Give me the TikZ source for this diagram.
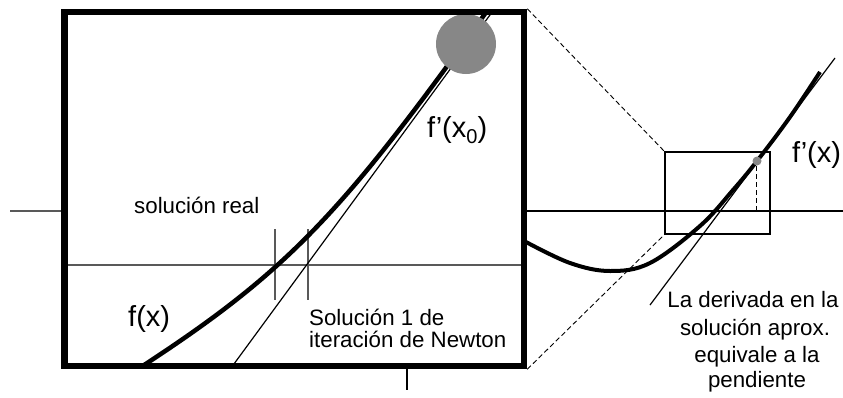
\documentclass[tikz,border=0pt]{standalone}
\usepackage{fontspec}
\setmainfont{Liberation Sans}
\begin{document}
\begin{tikzpicture}[x=1pt,y=-1pt]
\tikzset{
  thickbox/.style={line width=6.5pt},
  fcurve/.style={line width=4.5pt},
  thinline/.style={line width=1.2pt},
  grayline/.style={line width=1.3pt, draw=black!65},
  dashline/.style={line width=0.9pt, dash pattern=on 5pt off 3pt},
  lbl/.style={font=\fontsize{22.3}{26}\selectfont, inner sep=0pt},
  biglbl/.style={font=\fontsize{29}{32}\selectfont, inner sep=0pt},
}
\useasboundingbox (0,0) rectangle (843,397);
% key coordinates
\coordinate (boxTL) at (64.5,12);
\coordinate (boxBR) at (524,366);
\coordinate (boxTRo) at (527.25,8.75);
\coordinate (boxBRo) at (527.25,369.25);
\coordinate (axL1) at (10,211);
\coordinate (axL2) at (61,211);
\coordinate (axR1) at (527,211);
\coordinate (axR2) at (843,211);
\coordinate (inA) at (64,265);
\coordinate (inB) at (524,265);
\coordinate (t1a) at (275,229); \coordinate (t1b) at (275,300);
\coordinate (t2a) at (308,229); \coordinate (t2b) at (308,300);
\coordinate (tya) at (407,369); \coordinate (tyb) at (407,390);
\coordinate (tanA) at (231,368);
\coordinate (tanB) at (498,4);
\coordinate (fA) at (138,369);
\coordinate (fB) at (492,4);
\coordinate (srTL) at (665,152);
\coordinate (srBR) at (770,234);
\coordinate (srBL) at (665,234);
\coordinate (rtanA) at (650,305);
\coordinate (rtanB) at (835,58);
\coordinate (vdA) at (756,166);
\coordinate (vdB) at (756,211);

% axes
\draw[grayline] (axL1) -- (axL2);
\draw[thinline] (axR1) -- (axR2);
\draw[grayline] (inA) -- (inB);
\draw[grayline] (t1a) -- (t1b);
\draw[grayline] (t2a) -- (t2b);
\draw[thinline] (tya) -- (tyb);

% zoomed curve and tangent
\begin{scope}
  \clip (boxTL) rectangle (boxBR);
  \draw[fcurve] (fA) .. controls (288,271.5) and (342,214) .. (fB);
  \draw[thinline] (tanA) -- (tanB);
\end{scope}
\node[circle, fill=black!47, minimum size=60pt, inner sep=0pt] (x0pt) at (466,44) {};

% frame
\draw[thickbox] (boxTL) rectangle (boxBR);

% right part
\draw[thinline] (srTL) rectangle (srBR);
\draw[dashline] (boxTRo) -- (srTL);
\draw[dashline] (boxBRo) -- (srBL);
\draw[fcurve, line width=4pt] plot[smooth, tension=0.6] coordinates {(526,242) (570,263) (610,271) (650,263) (700,226) (733,190) (757,161) (790,117) (820,72)};
\draw[thinline] (rtanA) -- (rtanB);
\draw[dashline] (vdA) -- (vdB);
\node[circle, fill=black!47, minimum size=9pt, inner sep=0pt] (xpt) at (757,161) {};

% labels
\node[lbl, anchor=base west] (solreal) at (134,213) {solución real};
\node[biglbl, anchor=base west] (fx) at (128,326) {f(x)};
\node[biglbl, anchor=base west] (fpx0) at (427,137) {f’(x\raisebox{-6pt}{\fontsize{20}{20}\selectfont 0})};
\node[lbl, anchor=base west] (sol1) at (309,325) {Solución 1 de};
\node[lbl, anchor=base west] (sol2) at (309,347) {iteración de Newton};
\node[biglbl, anchor=base west] (fpx) at (792,162) {f’(x)};
\node[lbl, anchor=base] (d1) at (753,307) {La derivada en la};
\node[lbl, anchor=base] (d2) at (755,335) {solución aprox.};
\node[lbl, anchor=base] (d3) at (757,362) {equivale a la};
\node[lbl, anchor=base] (d4) at (757,387) {pendiente};
\end{tikzpicture}
\end{document}
